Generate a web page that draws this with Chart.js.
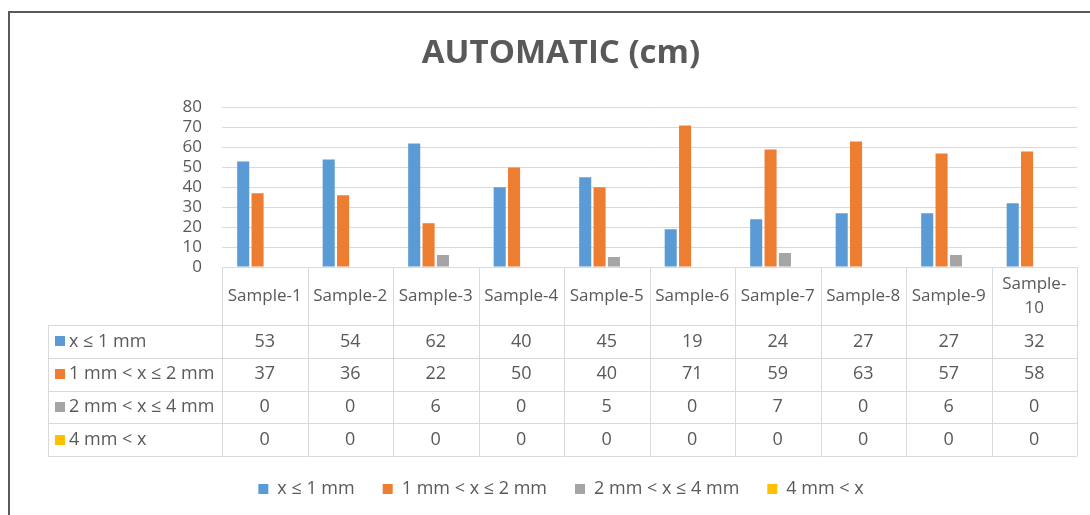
<!DOCTYPE html>
<html lang="en">
<head>
  <meta charset="UTF-8">
  <title>AUTOMATIC (cm)</title>
  <script src="https://cdn.jsdelivr.net/npm/chart.js"></script>
  <style>
    body { margin: 0; background: #fff; }
    .wrap { position: relative; width: 1090px; height: 515px; overflow: hidden; }
    .frame { position: absolute; left: 8px; top: 11px; width: 1200px; height: 600px;
             border-left: 2px solid #595959; border-top: 2px solid #595959; pointer-events: none; }
    canvas { position: absolute; left: 0; top: 0; }
  </style>
</head>
<body>
  <div class="wrap">
    <canvas id="autoChart" width="1090" height="515"></canvas>
    <div class="frame"></div>
  </div>

  <script>
    // chart data
    const categories = ['Sample-1', 'Sample-2', 'Sample-3', 'Sample-4', 'Sample-5',
                        'Sample-6', 'Sample-7', 'Sample-8', 'Sample-9', 'Sample-10'];
    const seriesNames = ['x ≤ 1 mm', '1 mm < x ≤ 2 mm', '2 mm < x ≤ 4 mm', '4 mm < x'];
    const upTo1mm = [53, 54, 62, 40, 45, 19, 24, 27, 27, 32];
    const from1to2mm = [37, 36, 22, 50, 40, 71, 59, 63, 57, 58];
    const from2to4mm = [0, 0, 6, 0, 5, 0, 7, 0, 6, 0];
    const over4mm = [0, 0, 0, 0, 0, 0, 0, 0, 0, 0];
    const yMax = 80;
    const yStep = 10;

    const colors = ['#5B9BD5', '#ED7D31', '#A5A5A5', '#FFC000'];
    const textColor = '#595959';
    const lineColor = '#D9D9D9';
    const fontFamily = "'Open Sans', sans-serif";

    Chart.defaults.font.family = fontFamily;
    Chart.defaults.color = textColor;

    // data table under the x axis, laid out from the x scale
    const dataTable = {
      id: 'dataTable',
      afterDraw(chart) {
        const ctx = chart.ctx;
        const x = chart.scales.x;
        const area = chart.chartArea;
        const n = categories.length;
        const cw = area.width / n;
        const top = area.bottom;
        const headH = 58;
        const rowH = 32.75;
        const tableLeft = 48;
        const bottom = top + headH + rowH * seriesNames.length;

        ctx.save();
        ctx.strokeStyle = lineColor;
        ctx.lineWidth = 1;

        // vertical lines at category edges
        for (let i = 0; i <= n; i++) {
          const px = Math.round(area.left + i * cw) + 0.5;
          ctx.beginPath();
          ctx.moveTo(px, top);
          ctx.lineTo(px, bottom);
          ctx.stroke();
        }
        // left edge of row headers
        ctx.beginPath();
        ctx.moveTo(tableLeft + 0.5, top + headH);
        ctx.lineTo(tableLeft + 0.5, bottom);
        ctx.stroke();
        // horizontal lines
        for (let r = 0; r <= seriesNames.length; r++) {
          const py = Math.round(top + headH + r * rowH) + 0.5;
          ctx.beginPath();
          ctx.moveTo(tableLeft, py);
          ctx.lineTo(area.right, py);
          ctx.stroke();
        }

        ctx.fillStyle = textColor;
        ctx.textBaseline = 'middle';
        ctx.textAlign = 'center';

        // header: category names, wrapped after the hyphen when too wide
        ctx.font = '17px ' + fontFamily;
        categories.forEach((label, i) => {
          const cx = x.getPixelForTick(i);
          const cy = top + headH / 2;
          if (ctx.measureText(label).width > cw - 4) {
            const cut = label.indexOf('-') + 1;
            ctx.fillText(label.slice(0, cut), cx, cy - 12);
            ctx.fillText(label.slice(cut), cx, cy + 12);
          } else {
            ctx.fillText(label, cx, cy);
          }
        });

        // rows
        ctx.font = '18px ' + fontFamily;
        chart.data.datasets.forEach((ds, r) => {
          const cy = top + headH + r * rowH + rowH / 2;
          ctx.fillStyle = ds.backgroundColor;
          ctx.fillRect(55, Math.round(cy - 5), 10, 10);
          ctx.fillStyle = textColor;
          ctx.textAlign = 'left';
          ctx.fillText(ds.label, 69, cy);
          ctx.textAlign = 'center';
          ds.data.forEach((v, i) => {
            ctx.fillText(String(v), x.getPixelForTick(i), cy);
          });
        });
        ctx.restore();
      }
    };

    const seriesValues = [upTo1mm, from1to2mm, from2to4mm, over4mm];

    const chart = new Chart(document.getElementById('autoChart'), {
      type: 'bar',
      data: {
        labels: categories,
        datasets: seriesNames.map((name, i) => ({
          label: name,
          data: seriesValues[i],
          backgroundColor: colors[i],
          borderWidth: 0,
          categoryPercentage: 0.672,
          barPercentage: 0.84
        }))
      },
      options: {
        responsive: false,
        animation: false,
        layout: { padding: { left: 45, right: 13, top: 0, bottom: 7 } },
        plugins: {
          title: {
            display: true,
            text: 'AUTOMATIC (cm)',
            color: textColor,
            font: { size: 33, weight: 'bold', family: fontFamily },
            padding: { top: 34, bottom: 34 }
          },
          legend: {
            position: 'bottom',
            labels: {
              boxWidth: 10,
              boxHeight: 10,
              padding: 28,
              color: textColor,
              font: { size: 18, family: fontFamily }
            }
          },
          tooltip: { enabled: false }
        },
        scales: {
          x: {
            grid: { display: false },
            border: { display: false },
            ticks: { display: false },
            afterFit(scale) { scale.height = 185; }
          },
          y: {
            min: 0,
            max: yMax,
            ticks: {
              stepSize: yStep,
              autoSkip: false,
              padding: 20,
              color: textColor,
              font: { size: 17, family: fontFamily }
            },
            grid: { color: lineColor, drawTicks: false },
            border: { display: false },
            afterFit(scale) { scale.width = 177; }
          }
        }
      },
      plugins: [dataTable]
    });
  </script>
</body>
</html>
